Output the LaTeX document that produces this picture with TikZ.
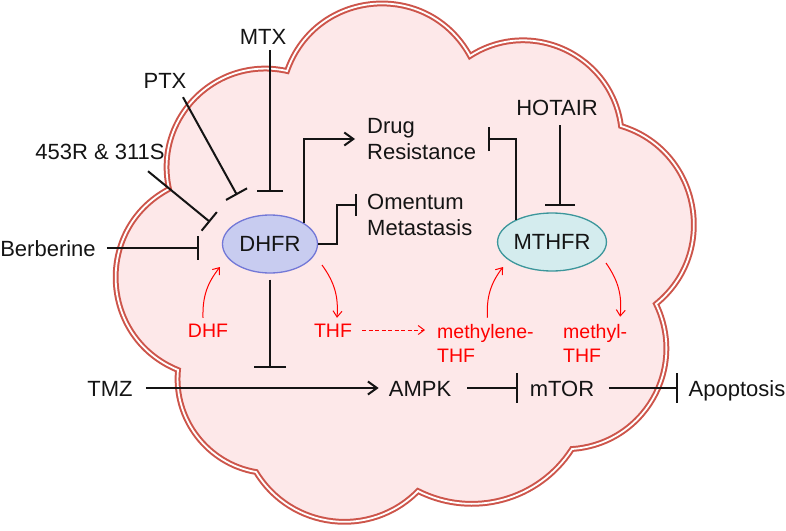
\documentclass[tikz,border=0pt]{standalone}
\usepackage{fontspec}
\setmainfont{Liberation Sans}
\usetikzlibrary{arrows.meta,shapes.geometric,calc}
\definecolor{cloudfill}{RGB}{253,232,233}
\definecolor{cloudline}{RGB}{205,85,75}
\definecolor{dhfrfill}{RGB}{200,204,240}
\definecolor{dhfrline}{RGB}{115,120,215}
\definecolor{mthfrfill}{RGB}{212,236,238}
\definecolor{mthfrline}{RGB}{60,150,155}
\definecolor{ink}{RGB}{20,20,20}
\definecolor{redink}{RGB}{255,0,0}
\begin{document}
\begin{tikzpicture}[x=1pt,y=-1pt,
 lbl/.style={font=\fontsize{22}{26}\selectfont, text=ink, inner sep=0pt, text height=16pt, text depth=0pt},
 lbl2/.style={font=\fontsize{22}{26.5}\selectfont, text=ink, inner sep=0pt, align=left, anchor=west},
 rlbl/.style={font=\fontsize{19.5}{24}\selectfont, text=redink, inner sep=0pt, text height=14pt, text depth=0pt},
 rlbl2/.style={font=\fontsize{19.5}{24}\selectfont, text=redink, inner sep=0pt, align=left, anchor=west},
 enz/.style={ellipse, draw, line width=1.3pt, minimum width=95pt, minimum height=58pt, inner sep=0pt, font=\fontsize{22}{26}\selectfont, text=ink},
 inh/.style={draw=ink, line width=2pt, -{Bar[width=26pt]}},
 act/.style={draw=ink, line width=2pt, -{Straight Barb[length=9pt,width=13pt]}},
 ract/.style={draw=redink, line width=1pt, -{Straight Barb[length=6pt,width=9pt]}},
 cloud/.style={fill=cloudfill, draw=cloudline, line width=2pt, double=white, double distance=1.8pt}
]
\useasboundingbox (0,0) rectangle (786,530);
% cloud
\draw[cloud] (178,370)
  to[bend left=65, looseness=1.2] (169,189)
  to[bend left=57.5, looseness=1.11] (287,71)
  to[bend left=66, looseness=1.22] (470,56)
  to[bend left=57.6, looseness=1.11] (621,126)
  to[bend left=62, looseness=1.16] (656,304)
  to[bend left=56, looseness=1.1] (572,449)
  to[bend left=42, looseness=0.98] (418,491)
  to[bend left=52, looseness=1.06] (256,472)
  to[bend left=43, looseness=0.98] cycle;
% nodes
\node[lbl] (mtx) at (263,36) {MTX};
\node[lbl] (ptx) at (165,80) {PTX};
\node[lbl] (r453) at (100,151) {453R \& 311S};
\node[lbl] (berb) at (48,248) {Berberine};
\node[enz, fill=dhfrfill, draw=dhfrline] (dhfr) at (270,244) {DHFR};
\node[lbl2] (drug) at (367,139) {Drug\\Resistance};
\node[lbl2] (omen) at (367,215) {Omentum\\Metastasis};
\node[lbl] (hotair) at (557,107) {HOTAIR};
\node[enz, fill=mthfrfill, draw=mthfrline] (mthfr) at (552,242) {MTHFR};
\node[rlbl] (dhf) at (208,330) {DHF};
\node[rlbl] (thf) at (333,330) {THF};
\node[rlbl2] (meth) at (437,343) {methylene-\\THF};
\node[rlbl2] (methyl) at (563,343) {methyl-\\THF};
\node[lbl] (tmz) at (110,388) {TMZ};
\node[lbl] (ampk) at (420,388) {AMPK};
\node[lbl] (mtor) at (562,388) {mTOR};
\node[lbl] (apop) at (737,388) {Apoptosis};
% black connectors
\draw[inh, shorten >=22pt] ($(mtx.south -| dhfr.north)+(0,6)$) -- (dhfr.north);
\draw[inh, -{Bar[width=24pt]}] ($(ptx.south)+(18,9)$) -- ($(dhfr.center)+(-33,-49)$);
\draw[inh, -{Bar[width=24pt]}] ($(r453.south)+(48,12)$) -- ($(dhfr.center)+(-60,-22)$);
\draw[inh, -{Bar[width=24pt]}, shorten <=11pt, shorten >=23pt] (berb.east) -- (berb.east -| dhfr.west);
\draw[act, shorten >=12pt] (dhfr.32) |- (drug.west);
\draw[inh, -{Bar[width=22pt]}] (dhfr.east) -- ++(19,0) |- ($(omen.west)+(-10,-10)$);
\draw[inh, -{Bar[width=30pt]}] ($(hotair.south)+(3,10)$) -- ($(mthfr.north)+(8,-6)$);
\draw[inh, -{Bar[width=24pt]}] (mthfr.148) |- ($(drug.east)+(12,0)$);
\draw[inh, -{Bar[width=32pt]}] ($(dhfr.south)+(0,6)$) -- ($(dhfr.south |- ampk.north)+(0,-12)$);
\draw[act, shorten <=13pt, shorten >=10pt] (tmz.east) -- (ampk.west);
\draw[inh, -{Bar[width=30pt]}, shorten <=16pt, shorten >=12pt] (ampk.east) -- (mtor.west);
\draw[inh, -{Bar[width=30pt]}, shorten <=15pt, shorten >=11pt] (mtor.east) -- (apop.west);
% red connectors
\draw[ract] ($(dhf.north)+(-5,-5)$) to[bend left=20] ($(dhfr.center)+(-50,23)$);
\draw[ract] ($(dhfr.center)+(52,21)$) to[bend left=20] ($(thf.north)+(4,-5)$);
\draw[ract, dash pattern=on 4pt off 2.5pt, shorten <=10pt, shorten >=12pt] (thf.east) -- (thf.east -| meth.west);
\draw[ract] ($(meth.north)+(2,-6)$) to[bend left=20] ($(mthfr.center)+(-49,25)$);
\draw[ract] ($(mthfr.center)+(54,21)$) to[bend left=20] ($(methyl.north)+(25,-7)$);
\end{tikzpicture}
\end{document}
